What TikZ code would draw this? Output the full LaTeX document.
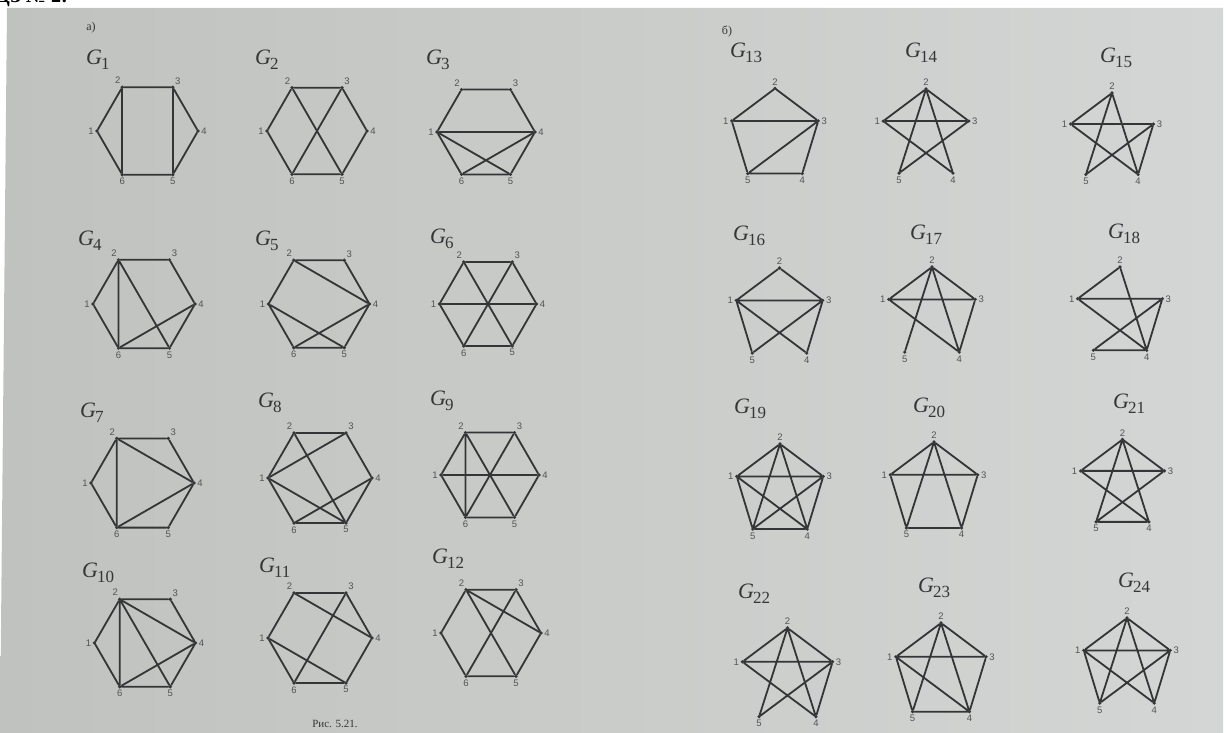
\documentclass[tikz,border=0pt]{standalone}
\usepackage{fontspec}
\setmainfont{Liberation Serif}
\newfontfamily\numfont{Liberation Sans}
\usepackage{xcolor}
\definecolor{PaperLeft}{HTML}{C0C2BF}
\definecolor{PaperRight}{HTML}{D4D6D5}
\definecolor{FigureInk}{HTML}{333537}
\tikzset{
  vtx/.style={circle, fill=FigureInk, inner sep=0pt, minimum size=3.6pt},
  numlab/.style={font=\numfont\fontsize{9.5}{9.5}\selectfont, text=FigureInk!85, inner sep=1.2pt},
  link/.style={draw=FigureInk, line width=1.8pt, line cap=round},
  glab/.style={anchor=base west, inner sep=0pt, text=FigureInk, font=\fontsize{22}{24}\selectfont},
}
\newcommand\gname[1]{\textit{G}\kern-1pt\raisebox{-5pt}{\fontsize{17}{17}\selectfont #1}}
% hexagon: name, centre x, centre y, radius
\newcommand\hexgraph[4]{%
  \node[vtx, label={[numlab]left:1}] (#1-1) at ({#2-#4},{#3}) {};
  \node[vtx, label={[numlab]100:2}] (#1-2) at ({#2-0.5*#4},{#3-0.866*#4}) {};
  \node[vtx, label={[numlab]60:3}] (#1-3) at ({#2+0.5*#4},{#3-0.866*#4}) {};
  \node[vtx, label={[numlab]right:4}] (#1-4) at ({#2+#4},{#3}) {};
  \node[vtx, label={[numlab]below:5}] (#1-5) at ({#2+0.5*#4},{#3+0.866*#4}) {};
  \node[vtx, label={[numlab]below:6}] (#1-6) at ({#2-0.5*#4},{#3+0.866*#4}) {};
  \draw[link] (#1-1) -- (#1-2) -- (#1-3) -- (#1-4) -- (#1-5) -- (#1-6) -- (#1-1);
}
% pentagon: name, centre x, centre y, radius
\newcommand\pentgraph[4]{%
  \node[vtx, label={[numlab]left:1}] (#1-1) at ({#2-0.92*#4},{#3-0.31*#4}) {};
  \node[vtx, label={[numlab]above:2}] (#1-2) at ({#2},{#3-#4}) {};
  \node[vtx, label={[numlab]right:3}] (#1-3) at ({#2+0.92*#4},{#3-0.31*#4}) {};
  \node[vtx, label={[numlab]below:4}] (#1-4) at ({#2+0.58*#4},{#3+0.81*#4}) {};
  \node[vtx, label={[numlab]below:5}] (#1-5) at ({#2-0.58*#4},{#3+0.81*#4}) {};
}
\begin{document}
\begin{tikzpicture}[x=1pt, y=-1pt]
  \useasboundingbox (0,0) rectangle (1226,733);
  \fill[white] (0,0) rectangle (1226,733);
  \shade[left color=PaperLeft, right color=PaperRight] (7,8) -- (1223,8) -- (1223,733) -- (0,733) -- cycle;
  \node[anchor=base west, inner sep=0pt, font=\bfseries\fontsize{20}{20}\selectfont] (hw) at (-4,2.5) {ДЗ № 2:};

  % a) hexagons
  \node[font=\fontsize{12}{12}\selectfont, text=FigureInk] (parta) at (91,28) {а)};
  \node[glab] (n1) at (86,65) {\gname{1}};
  \node[glab] (n2) at (255,65) {\gname{2}};
  \node[glab] (n3) at (426,65) {\gname{3}};
  \node[glab] (n4) at (78,245) {\gname{4}};
  \node[glab] (n5) at (255,245) {\gname{5}};
  \node[glab] (n6) at (430,243) {\gname{6}};
  \node[glab] (n7) at (80,417) {\gname{7}};
  \node[glab] (n8) at (258,407) {\gname{8}};
  \node[glab] (n9) at (430,405) {\gname{9}};
  \node[glab] (n10) at (82,577) {\gname{10}};
  \node[glab] (n11) at (259,572) {\gname{11}};
  \node[glab] (n12) at (432,563) {\gname{12}};

  \hexgraph{g1}{147.5}{131}{50.5}
  \draw[link] (g1-2) -- (g1-6) (g1-3) -- (g1-5);
  \hexgraph{g2}{317}{131}{50}
  \draw[link] (g2-2) -- (g2-5) (g2-3) -- (g2-6);
  \hexgraph{g3}{486}{132}{49}
  \draw[link] (g3-1) -- (g3-4) (g3-1) -- (g3-5) (g3-4) -- (g3-6);
  \hexgraph{g4}{144}{304}{51}
  \draw[link] (g4-2) -- (g4-6) (g4-2) -- (g4-5) (g4-4) -- (g4-6);
  \hexgraph{g5}{319}{304}{50.5}
  \draw[link] (g5-2) -- (g5-4) (g5-1) -- (g5-5) (g5-4) -- (g5-6);
  \hexgraph{g6}{488}{304}{48.5}
  \draw[link] (g6-1) -- (g6-4) (g6-2) -- (g6-5) (g6-3) -- (g6-6);
  \hexgraph{g7}{142.5}{483}{51.5}
  \draw[link] (g7-2) -- (g7-6) (g7-2) -- (g7-4) (g7-4) -- (g7-6);
  \hexgraph{g8}{320}{478}{52}
  \draw[link] (g8-1) -- (g8-3) (g8-1) -- (g8-5) (g8-2) -- (g8-5) (g8-4) -- (g8-6);
  \hexgraph{g9}{490}{475}{49}
  \draw[link] (g9-2) -- (g9-6) (g9-2) -- (g9-5) (g9-3) -- (g9-6) (g9-1) -- (g9-4);
  \hexgraph{g10}{145}{643}{50.5}
  \draw[link] (g10-2) -- (g10-6) (g10-2) -- (g10-4) (g10-2) -- (g10-5) (g10-4) -- (g10-6);
  \hexgraph{g11}{320}{638}{52}
  \draw[link] (g11-2) -- (g11-4) (g11-3) -- (g11-6) (g11-1) -- (g11-5);
  \hexgraph{g12}{491}{633}{50}
  \draw[link] (g12-2) -- (g12-4) (g12-2) -- (g12-5) (g12-3) -- (g12-6);

  \node[font=\fontsize{11}{11}\selectfont, text=FigureInk] (caption) at (335,724) {Рис. 5.21.};

  % b) pentagons
  \node[font=\fontsize{12}{12}\selectfont, text=FigureInk] (partb) at (727,31) {б)};
  \node[glab] (n13) at (730,58) {\gname{13}};
  \node[glab] (n14) at (905,58) {\gname{14}};
  \node[glab] (n15) at (1100,63) {\gname{15}};
  \node[glab] (n16) at (733,240) {\gname{16}};
  \node[glab] (n17) at (910,239) {\gname{17}};
  \node[glab] (n18) at (1108,238) {\gname{18}};
  \node[glab] (n19) at (734,413) {\gname{19}};
  \node[glab] (n20) at (913,412) {\gname{20}};
  \node[glab] (n21) at (1113,408) {\gname{21}};
  \node[glab] (n22) at (738,598) {\gname{22}};
  \node[glab] (n23) at (918,592) {\gname{23}};
  \node[glab] (n24) at (1118,587) {\gname{24}};

  \pentgraph{g13}{775}{135.5}{47}
  \draw[link] (g13-1) -- (g13-2) -- (g13-3) -- (g13-4) -- (g13-5) -- (g13-1) -- (g13-3) -- (g13-5);
  \pentgraph{g14}{926}{135.5}{46.5}
  \draw[link] (g14-5) -- (g14-2) -- (g14-4) -- (g14-1) -- (g14-3) -- (g14-5) (g14-1) -- (g14-2) -- (g14-3);
  \pentgraph{g15}{1112}{138}{45}
  \draw[link] (g15-2) -- (g15-1) -- (g15-3) -- (g15-5) -- (g15-2) -- (g15-4) -- (g15-1) (g15-3) -- (g15-4);
  \pentgraph{g16}{779.5}{315}{47}
  \draw[link] (g16-1) -- (g16-2) -- (g16-3) -- (g16-1) (g16-5) -- (g16-1) -- (g16-4) (g16-5) -- (g16-3) -- (g16-4);
  \pentgraph{g17}{932}{314}{47}
  \draw[link] (g17-1) -- (g17-2) -- (g17-3) -- (g17-1) (g17-5) -- (g17-2) -- (g17-4) -- (g17-1) (g17-3) -- (g17-4);
  \pentgraph{g18}{1120}{313}{46}
  \draw[link] (g18-2) -- (g18-1) -- (g18-3) -- (g18-4) -- (g18-2) (g18-1) -- (g18-4) -- (g18-5) -- (g18-3);
  \pentgraph{g19}{780}{491}{47}
  \draw[link] (g19-1) -- (g19-2) -- (g19-3) -- (g19-4) -- (g19-5) -- (g19-1) -- (g19-3) -- (g19-5) -- (g19-2) -- (g19-4) -- (g19-1);
  \pentgraph{g20}{934}{489.5}{47.5}
  \draw[link] (g20-1) -- (g20-2) -- (g20-3) -- (g20-4) -- (g20-5) -- (g20-1) -- (g20-3) (g20-5) -- (g20-2) -- (g20-4);
  \pentgraph{g21}{1122.5}{485}{45.5}
  \draw[link] (g21-1) -- (g21-3) -- (g21-5) -- (g21-2) -- (g21-4) -- (g21-1) -- (g21-2) -- (g21-3) (g21-5) -- (g21-4);
  \pentgraph{g22}{787.5}{677}{49}
  \draw[link] (g22-1) -- (g22-3) -- (g22-5) -- (g22-2) -- (g22-4) -- (g22-1) -- (g22-2) -- (g22-3) -- (g22-4);
  \pentgraph{g23}{941}{672}{49}
  \draw[link] (g23-1) -- (g23-2) -- (g23-3) -- (g23-4) -- (g23-5) -- (g23-1) -- (g23-3) (g23-1) -- (g23-4) -- (g23-2) -- (g23-5);
  \pentgraph{g24}{1127}{665}{47}
  \draw[link] (g24-1) -- (g24-2) -- (g24-3) -- (g24-4) -- (g24-1) -- (g24-5) -- (g24-2) -- (g24-4) (g24-1) -- (g24-3) -- (g24-5);
\end{tikzpicture}
\end{document}
